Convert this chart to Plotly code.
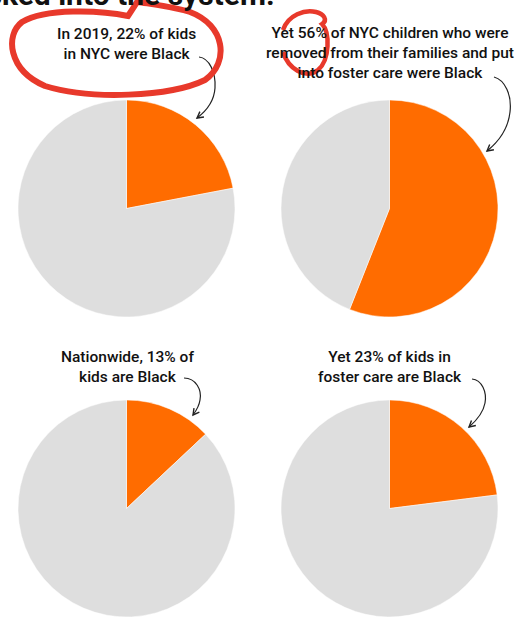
import math
import plotly.graph_objects as go

W, H = 527, 617

# ---- data ----
labels = ["Black", "Other"]
nyc_kids = [22, 78]
nyc_foster = [56, 44]
us_kids = [13, 87]
us_foster = [23, 77]
captions = [
    "In 2019, 22% of kids<br>in NYC were Black",
    "Yet 56% of NYC children who were<br>removed from their families and put<br>into foster care were Black",
    "Nationwide, 13% of<br>kids are Black",
    "Yet 23% of kids in<br>foster care are Black",
]
title_text = "Black kids are locked into the system."

ORANGE = "#ff6c00"
GRAY = "#dedede"
RED = "#e8392b"


def px(x, y):
    return f"{x / W:.5f},{1 - y / H:.5f}"


def dom(cx, cy, r):
    return dict(x=[(cx - r) / W, (cx + r) / W], y=[1 - (cy + r) / H, 1 - (cy - r) / H])


fig = go.Figure()
pies = [
    (nyc_kids, 126.5, 208.5),
    (nyc_foster, 389.5, 208.5),
    (us_kids, 126.5, 508.5),
    (us_foster, 389.5, 508.5),
]
for vals, cx, cy in pies:
    fig.add_trace(go.Pie(
        labels=labels, values=vals, sort=False, direction="clockwise", rotation=0,
        marker=dict(colors=[ORANGE, GRAY], line=dict(color="white", width=0.5)),
        textinfo="none", hoverinfo="label+percent", showlegend=False,
        domain=dom(cx, cy, 108.5),
    ))

font = dict(family="Roboto", size=15.5, color="#111111", weight=500)
cap_pos = [(126.5, 44), (390, 53), (127, 367), (390, 367)]
annotations = []
for txt, (x, y) in zip(captions, cap_pos):
    annotations.append(dict(text=txt, x=x / W, y=1 - y / H, xref="paper", yref="paper",
                            xanchor="center", yanchor="middle", showarrow=False,
                            font=font, align="center", borderpad=0))
# cut-off headline at the very top
annotations.append(dict(text="<b>" + title_text + "</b>", x=276 / W, y=1 - 13 / H,
                        xref="paper", yref="paper", xanchor="right", yanchor="bottom",
                        showarrow=False, borderpad=0,
                        font=dict(family="Roboto", size=30, color="#111111", weight=900)))

shapes = []


def curve(pts):
    # pts: start, then groups of 3 (c1, c2, end)
    d = "M" + px(*pts[0])
    for i in range(1, len(pts), 3):
        d += " C" + " ".join(px(*p) for p in pts[i:i + 3])
    return d


def arrow(pts):
    shapes.append(dict(type="path", path=curve(pts), xref="paper", yref="paper",
                       line=dict(color="#222222", width=1.2)))
    tip = pts[-1]
    prev = pts[-2]
    ang = math.atan2(tip[1] - prev[1], tip[0] - prev[0])
    L = 7
    a1 = (tip[0] - L * math.cos(ang - 0.5), tip[1] - L * math.sin(ang - 0.5))
    a2 = (tip[0] - L * math.cos(ang + 0.5), tip[1] - L * math.sin(ang + 0.5))
    d = "M" + px(*a1) + " L" + px(*tip) + " L" + px(*a2)
    shapes.append(dict(type="path", path=d, xref="paper", yref="paper",
                       line=dict(color="#222222", width=1.4)))


arrow([(199, 57), (209, 58), (216, 72), (215, 88), (214, 103), (205, 112), (197, 118)])
arrow([(494, 77), (505, 80), (512, 95), (510, 112), (508, 130), (497, 143), (487, 151)])
arrow([(184, 378), (196, 378), (202, 390), (200, 400), (199, 407), (196, 411), (193, 415)])
arrow([(472, 379), (482, 380), (487, 392), (485, 403), (483, 414), (476, 421), (469, 427)])

# red hand-drawn loops
loop1 = [(140, -3), (136, 4), (132, 10), (128, 16),
         (100, 10), (45, 8), (22, 22),
         (5, 35), (8, 70), (45, 86),
         (90, 100), (170, 97), (205, 80),
         (230, 62), (225, 25), (190, 12),
         (170, 6), (150, 4), (138, 2)]
shapes.append(dict(type="path", path=curve(loop1), xref="paper", yref="paper",
                   line=dict(color=RED, width=6)))
loop2 = [(283, 30), (288, 15), (305, 9), (316, 12),
         (324, 14), (328, 20), (322, 24),
         (330, 32), (330, 60), (318, 70),
         (305, 80), (288, 68), (283, 52)]
shapes.append(dict(type="path", path=curve(loop2), xref="paper", yref="paper",
                   line=dict(color=RED, width=4.5)))

fig.update_layout(
    width=W, height=H, margin=dict(l=0, r=0, t=0, b=0),
    paper_bgcolor="white", plot_bgcolor="white",
    annotations=annotations, shapes=shapes,
)
fig.write_html("out.html")
